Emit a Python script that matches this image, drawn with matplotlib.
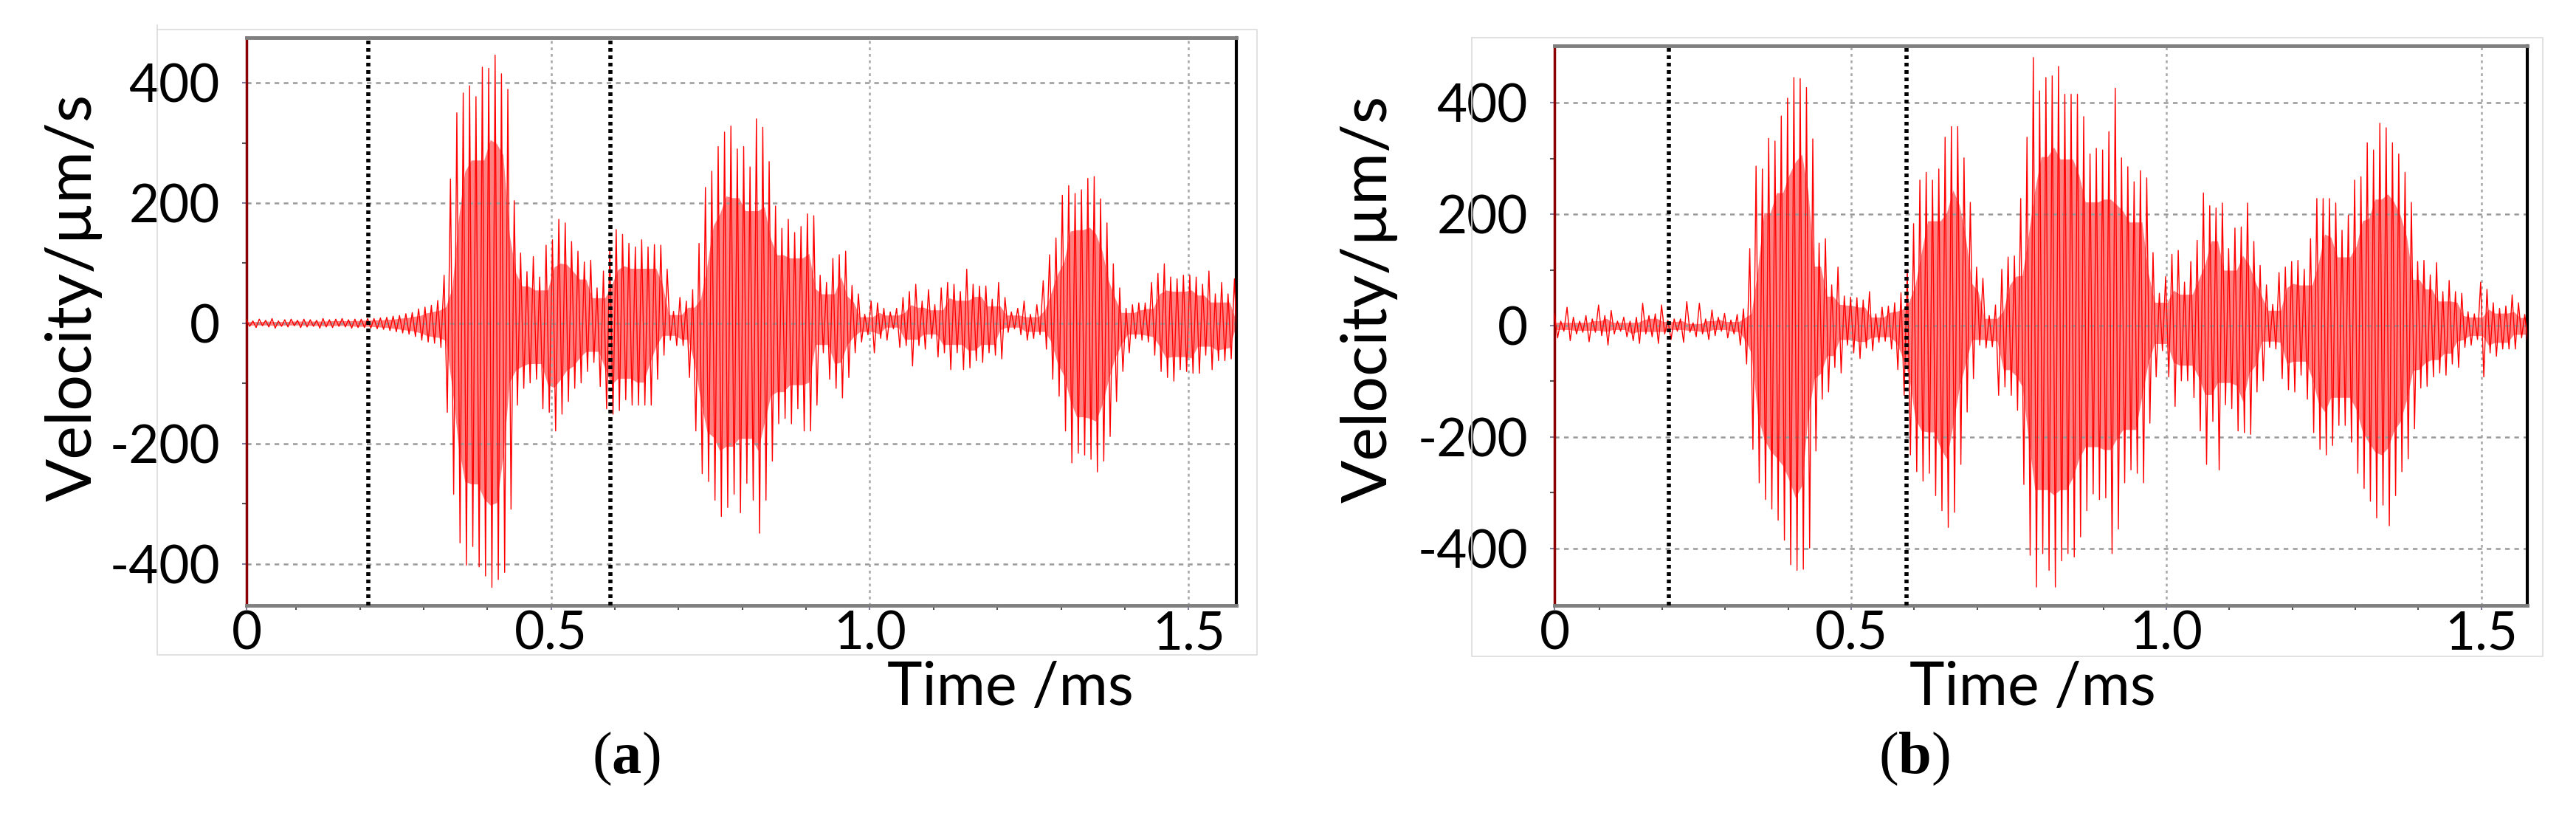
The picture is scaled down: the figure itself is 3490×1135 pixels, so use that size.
import numpy as np
import matplotlib.pyplot as plt
from matplotlib.lines import Line2D

plt.rcParams['font.family'] = ['Lato', 'DejaVu Sans']
plt.rcParams['axes.unicode_minus'] = False
plt.rcParams['mathtext.fontset'] = 'custom'
plt.rcParams['mathtext.bf'] = 'Liberation Serif:bold'
plt.rcParams['mathtext.rm'] = 'Liberation Serif'

# ---- data: peak values per carrier cycle (0.01 ms) ----
# panel (a): first cycle at t0_a, upper peak at t, lower peak half a cycle later
t0_a = 0.022
up_a = [6, 4, 7, 5, 8, 4, 6, 7, 5, 7, 6, 5, 8, 6, 7, 8, 6, 7,
        7, 8, 8, 9, 10, 12, 13, 16, 18, 24, 27, 30, 38,
        80, 240, 350, 383, 395, 377, 426, 424, 446, 415,
        389, 204, 117, 86, 111, 77, 130, 139, 173, 167,
        136, 120, 102, 105, 59, 87, 124, 156, 148, 133,
        127, 139, 127, 131, 130, 90, 20, 43, 37, 56,
        133, 226, 253, 294, 318, 328, 290,
        294, 260, 340, 326, 269, 195, 158, 173, 151, 161,
        182, 179, 80, 68, 108, 114, 120, 63, 49, 15,
        37, 34, 25, 19, 25, 43, 53, 65, 37, 56,
        31, 59, 68, 65, 53, 90, 65, 62, 62, 40,
        68, 43, 19, 25, 37, 15, 31, 71, 114, 142,
        213, 229, 216, 222, 241, 244, 207, 167, 99, 59,
        25, 31, 34, 34, 68, 83, 99, 77, 74, 80,
        80, 77, 65, 87, 49, 68, 49, 74]
lo_a = [-5, -7, -4, -6, -8, -5, -6, -4, -7, -6, -5, -8, -6, -7, -5, -6, -8, -7,
        -7, -8, -9, -10, -12, -14, -16, -18, -22, -28, -31, -33, -40,
        -148, -284, -365, -402, -371, -405, -420, -439, -426, -414,
        -309, -136, -108, -99, -93, -142, -148, -179, -151, -130,
        -108, -99, -80, -65, -105, -142, -151, -145, -127, -136,
        -136, -136, -136, -93, -53, -28, -37, -37, -90, -179,
        -250, -263, -294, -321, -306, -284, -315,
        -266, -294, -349, -294, -229, -167, -158, -167, -142, -179,
        -179, -136, -49, -93, -108, -124, -90, -49, -31, -19,
        -49, -25, -28, -9, -40, -37, -71, -37, -43, -25,
        -56, -49, -77, -49, -77, -74, -62, -65, -49, -53,
        -59, -15, -9, -19, -28, -25, -19, -43, -93, -121,
        -179, -232, -216, -219, -226, -247, -229, -188, -130, -80,
        -49, -25, -28, -31, -53, -80, -90, -96, -77, -80,
        -83, -83, -53, -77, -62, -62, -59, -56]
xlim_a = (0.022, 1.575)
ylim_a = (-469, 475)
marks_a = [0.213, 0.593]

# panel (b)
t0_b = 0.029
up_b = [21, 8, 33, 15, 8, 18, 12, 37, 18, 27, 8, 15, 8, 15, 40, 18,
        21, 37, 10, 12, 12, 43, 5, 40, 12, 28, 15, 22, 10, 20, 30,
        138, 286, 281, 336, 331, 376, 408, 445, 443, 427,
        335, 148, 156, 73, 105, 53, 51, 50, 46, 61,
        21, 33, 35, 41, 59, 101, 183, 261, 275, 261,
        281, 338, 357, 357, 301, 221, 105, 85, 18, 37, 101, 123,
        125, 228, 338, 481, 421, 445, 448, 465, 415, 415,
        415, 375, 308, 318, 315, 348, 426, 301, 285, 258,
        278, 265, 131, 58, 88, 128, 135, 78, 115, 153,
        238, 215, 211, 220, 138, 175, 177, 220, 151, 108,
        73, 38, 95, 105, 115, 117, 101, 156, 228, 228,
        228, 220, 171, 198, 261, 267, 328, 315, 363, 355,
        328, 308, 275, 221, 115, 117, 91, 113, 61, 81,
        61, 58, 25, 21, 78, 65, 41, 31, 35, 55, 41, 20]
lo_b = [-22, -10, -27, -15, -12, -29, -12, -18, -35, -15, -10, -20, -27, -32, -15, -20,
        -32, -15, -25, -10, -30, -12, -20, -15, -25, -18, -10, -22, -15, -35, -69,
        -222, -282, -312, -329, -349, -385, -429, -439, -437, -399,
        -225, -132, -119, -75, -85, -35, -49, -59, -40, -45,
        -30, -28, -42, -79, -125, -232, -262, -279, -265, -305,
        -332, -362, -335, -249, -155, -95, -35, -40, -38, -125, -110, -125,
        -152, -285, -412, -469, -409, -439, -469, -422, -409, -415,
        -379, -332, -302, -312, -309, -409, -365, -282, -259, -265,
        -282, -175, -92, -45, -92, -145, -99, -99, -129, -189,
        -249, -172, -259, -142, -149, -189, -192, -195, -119, -99,
        -39, -42, -95, -115, -119, -89, -132, -192, -222, -232,
        -215, -179, -179, -209, -265, -292, -315, -345, -322, -359,
        -305, -262, -239, -185, -112, -109, -92, -85, -89, -69,
        -75, -39, -35, -25, -92, -49, -55, -42, -42, -42, -22, -30]
xlim_b = (0.029, 1.573)
ylim_b = (-502, 502)
marks_b = [0.211, 0.588]

yticks = [-400, -200, 0, 200, 400]
ytick_labels = ['-400', '-200', '0', '200', '400']
xticks = [0.5, 1.0, 1.5]
xtick_labels = ['0.5', '1.0', '1.5']

W, H = 3491, 1135
fig = plt.figure(figsize=(W / 100, H / 100), dpi=100)


def draw_panel(rect, t0, up, lo, xlim, ylim, marks):
    ax = fig.add_axes(rect)
    up = np.array(up, float)
    lo = np.array(lo, float)
    tc = t0 + 0.01 * np.arange(len(up))
    t = np.empty(2 * len(up))
    v = np.empty(2 * len(up))
    t[0::2], t[1::2] = tc, tc + 0.005
    v[0::2], v[1::2] = up, lo

    # dense (aliased) core of the trace shows up as a pink band
    core_up = np.minimum.reduce([up, np.roll(up, 1), np.roll(up, -1)]) * 0.72
    core_lo = np.maximum.reduce([lo, np.roll(lo, 1), np.roll(lo, -1)]) * 0.72
    ax.fill_between(tc + 0.0025, core_lo, core_up, color='#ff8282', lw=0, zorder=1)
    ax.plot(t, v, color='#ff0000', lw=1.0, zorder=3)

    for y in yticks:
        ax.axhline(y, color='#999999', lw=1.8, ls=(0, (2.5, 2.5)), zorder=2)
    for x in xticks:
        ax.axvline(x, color='#a6a6a6', lw=1.8, ls=(0, (1.5, 2.0)), zorder=2)
    for x in marks:
        ax.axvline(x, color='black', lw=4, ls=(0, (0.9, 0.9)), zorder=4)

    ax.set_xlim(*xlim)
    ax.set_ylim(*ylim)
    ax.set_yticks(yticks)
    ax.set_yticklabels(ytick_labels)
    ax.set_yticks(np.arange(-300, 400, 200), minor=True)
    ax.set_xticks([xlim[0]] + xticks)
    ax.set_xticklabels(['0'] + xtick_labels)
    ax.set_xticks(np.arange(0.1, xlim[1], 0.1), minor=True)
    ax.tick_params(axis='both', which='major', labelsize=51, length=4,
                   color='#7f7f9f', width=1.5)
    ax.tick_params(axis='y', which='major', pad=22)
    ax.tick_params(axis='x', which='major', pad=1)
    ax.tick_params(axis='both', which='minor', length=4, color='#555555', width=1.5)

    ax.spines['top'].set_color('#7f7f7f')
    ax.spines['top'].set_linewidth(3.5)
    ax.spines['bottom'].set_color('#7f7f7f')
    ax.spines['bottom'].set_linewidth(3.5)
    ax.spines['left'].set_color('#8b0000')
    ax.spines['left'].set_linewidth(2.5)
    ax.spines['right'].set_color('black')
    ax.spines['right'].set_linewidth(3)
    return ax


ax_a = draw_panel([334 / W, 1 - 820 / H, (1675 - 334) / W, (820 - 51) / H],
                  t0_a, up_a, lo_a, xlim_a, ylim_a, marks_a)
ax_b = draw_panel([2106 / W, 1 - 820 / H, (3424 - 2106) / W, (820 - 62) / H],
                  t0_b, up_b, lo_b, xlim_b, ylim_b, marks_b)

# axis titles and panel letters
fig.text(100 / W, 0.645, 'Velocity/µm/s', rotation=90, ha='center', va='center', fontsize=62)
fig.text(1855 / W, 0.643, 'Velocity/µm/s', rotation=90, ha='center', va='center', fontsize=62)
fig.text(1369 / W, 1 - 932 / H, 'Time /ms', ha='center', va='center', fontsize=58)
fig.text(2754 / W, 1 - 932 / H, 'Time /ms', ha='center', va='center', fontsize=58)
for xc, letter in [(848, 'a'), (2593, 'b')]:
    fig.text(xc / W, 1 - 1028 / H, '(' + r'$\mathbf{' + letter + '}$' + ')', ha='center',
             va='center', fontsize=58, family='Liberation Serif')

# faint frames of the original screenshots
grey = '#dcdcdc'
for xs, ys in [([213, 213, 1703, 1703, 213], [34, 887, 887, 40, 40]),
               ([1994, 1994, 3445, 3445, 1994], [51, 889, 889, 51, 51])]:
    fig.add_artist(Line2D(np.array(xs) / W, 1 - np.array(ys) / H,
                          color=grey, lw=1.2, transform=fig.transFigure))

fig.savefig('out.png', dpi=100)
